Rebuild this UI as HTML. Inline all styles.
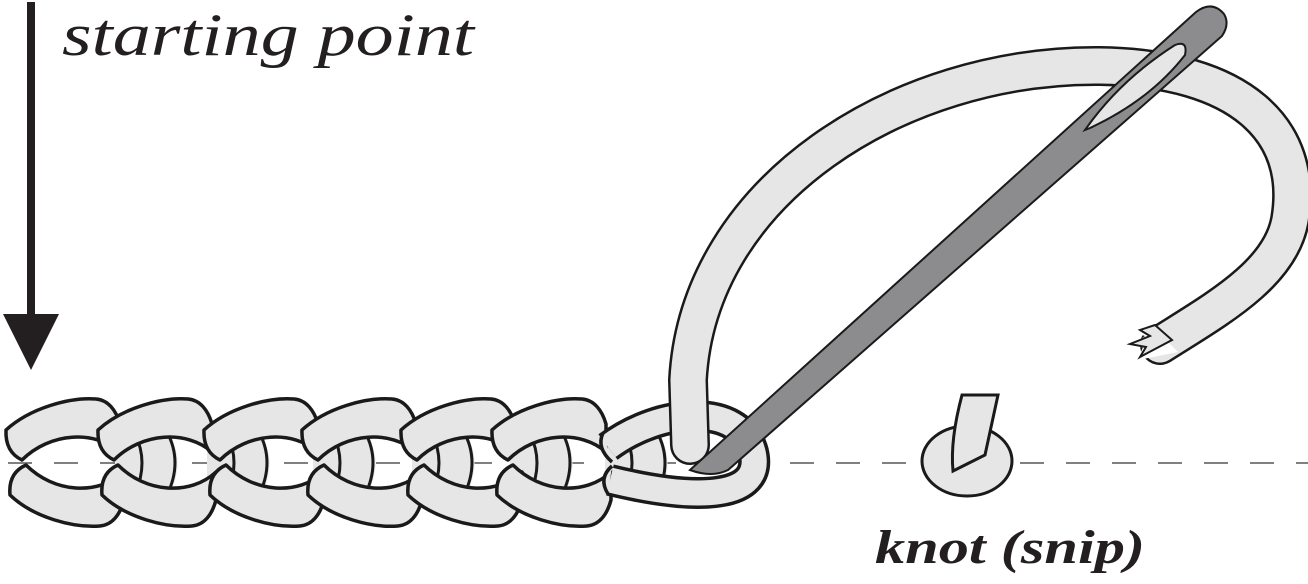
<!DOCTYPE html>
<html><head><meta charset="utf-8"><style>
html,body{margin:0;padding:0;background:#fff;}
svg{display:block;}
text{font-family:"Liberation Serif","DejaVu Serif",serif;}
</style></head><body>
<svg width="1308" height="584" viewBox="0 0 1308 584" xmlns="http://www.w3.org/2000/svg">
<defs>
<path id="upper" d="M22,460 Q5,452 6,430 C30,408 70,397 96,399 C108,400 116,410 120,424 L120,452 C95,430 50,432 22,460 Z" fill="#e6e6e6" stroke="#1a1a1a" stroke-width="3.5" stroke-linejoin="round"/>
<path id="lower" d="M26,465 Q8,473 10,495 C34,518 74,528 100,526 C112,525 120,515 124,500 L124,472 C98,496 54,493 26,465 Z" fill="#e6e6e6" stroke="#1a1a1a" stroke-width="3.5" stroke-linejoin="round"/>
<g id="mid"><path d="M108,436 L163,436 Q178,462 163,493 L108,493 Z" fill="#e6e6e6"/><path d="M128,434 Q142,462 128,494" fill="none" stroke="#1a1a1a" stroke-width="3"/><path d="M160,432 Q176,462 160,495" fill="none" stroke="#1a1a1a" stroke-width="3"/></g>
</defs>
<line x1="8" y1="463" x2="1308" y2="463" stroke="#808080" stroke-width="2" stroke-dasharray="24,22"/>
<rect x="27" y="2" width="8" height="315" fill="#231f20"/>
<polygon points="3,314 59,314 31,370" fill="#231f20"/>
<text x="62" y="55" font-style="italic" font-size="60" fill="#231f20" textLength="412" lengthAdjust="spacingAndGlyphs">starting point</text>
<use href="#mid" x="7"/><use href="#mid" x="99"/><use href="#mid" x="205"/><use href="#mid" x="304"/><use href="#mid" x="402"/><use href="#mid" x="497"/>
<use href="#upper" x="0"/><use href="#lower" x="0"/>
<use href="#upper" x="92"/><use href="#lower" x="92"/>
<use href="#upper" x="198"/><use href="#lower" x="200"/>
<use href="#upper" x="296"/><use href="#lower" x="298"/>
<use href="#upper" x="395"/><use href="#lower" x="398"/>
<use href="#upper" x="486"/><use href="#lower" x="487"/>
<path d="M608,447 C660,408 740,402 753,452 C764,498 700,502 610,480" fill="none" stroke="#1a1a1a" stroke-width="32"/>
<path d="M608,447 C660,408 740,402 753,452 C764,498 700,502 610,480" fill="none" stroke="#e6e6e6" stroke-width="25"/>
<path d="M603,433 Q596,448 612,462" fill="#e6e6e6" stroke="#1a1a1a" stroke-width="3.5"/>
<path d="M612,466 Q598,478 608,494" fill="#e6e6e6" stroke="#1a1a1a" stroke-width="3.5"/>
<path d="M690,445 L688,380 C698,190 900,64 1100,66 C1240,68 1305,130 1290,220 C1280,275 1215,310 1160,345" fill="none" stroke="#1a1a1a" stroke-width="40" stroke-linecap="round"/>
<path d="M690,445 L688,380 C698,190 900,64 1100,66 C1240,68 1305,130 1290,220 C1280,275 1215,310 1160,345" fill="none" stroke="#e6e6e6" stroke-width="35" stroke-linecap="round"/>
<polygon points="1148,322 1133,332 1145,336 1128,348 1143,347 1138,360 1178,352" fill="#ffffff" stroke="none"/>
<polygon points="1155,325 1140,330 1150,336 1130,344 1146,347 1140,357 1172,340" fill="#e6e6e6" stroke="#1a1a1a" stroke-width="2"/>
<path d="M690,470 L1196,12 Q1212,0 1224,14 Q1230,24 1222,36 L728,470 Q712,478 690,470 Z" fill="#8c8c8e" stroke="#1a1a1a" stroke-width="2"/>
<path d="M1085,130 Q1120,80 1175,45 Q1188,40 1185,55 Q1150,100 1090,128 Z" fill="#e6e6e6" stroke="#1a1a1a" stroke-width="2"/>
<ellipse cx="967" cy="461" rx="45" ry="35" fill="#e6e6e6" stroke="#1a1a1a" stroke-width="3"/>
<path d="M962,395 L998,395 L985,455 L953,471 Q950,440 962,395 Z" fill="#e6e6e6" stroke="#1a1a1a" stroke-width="3"/>
<text x="875" y="563" font-style="italic" font-weight="bold" font-size="48" fill="#231f20" textLength="270" lengthAdjust="spacingAndGlyphs">knot (snip)</text>
</svg>
</body></html>
